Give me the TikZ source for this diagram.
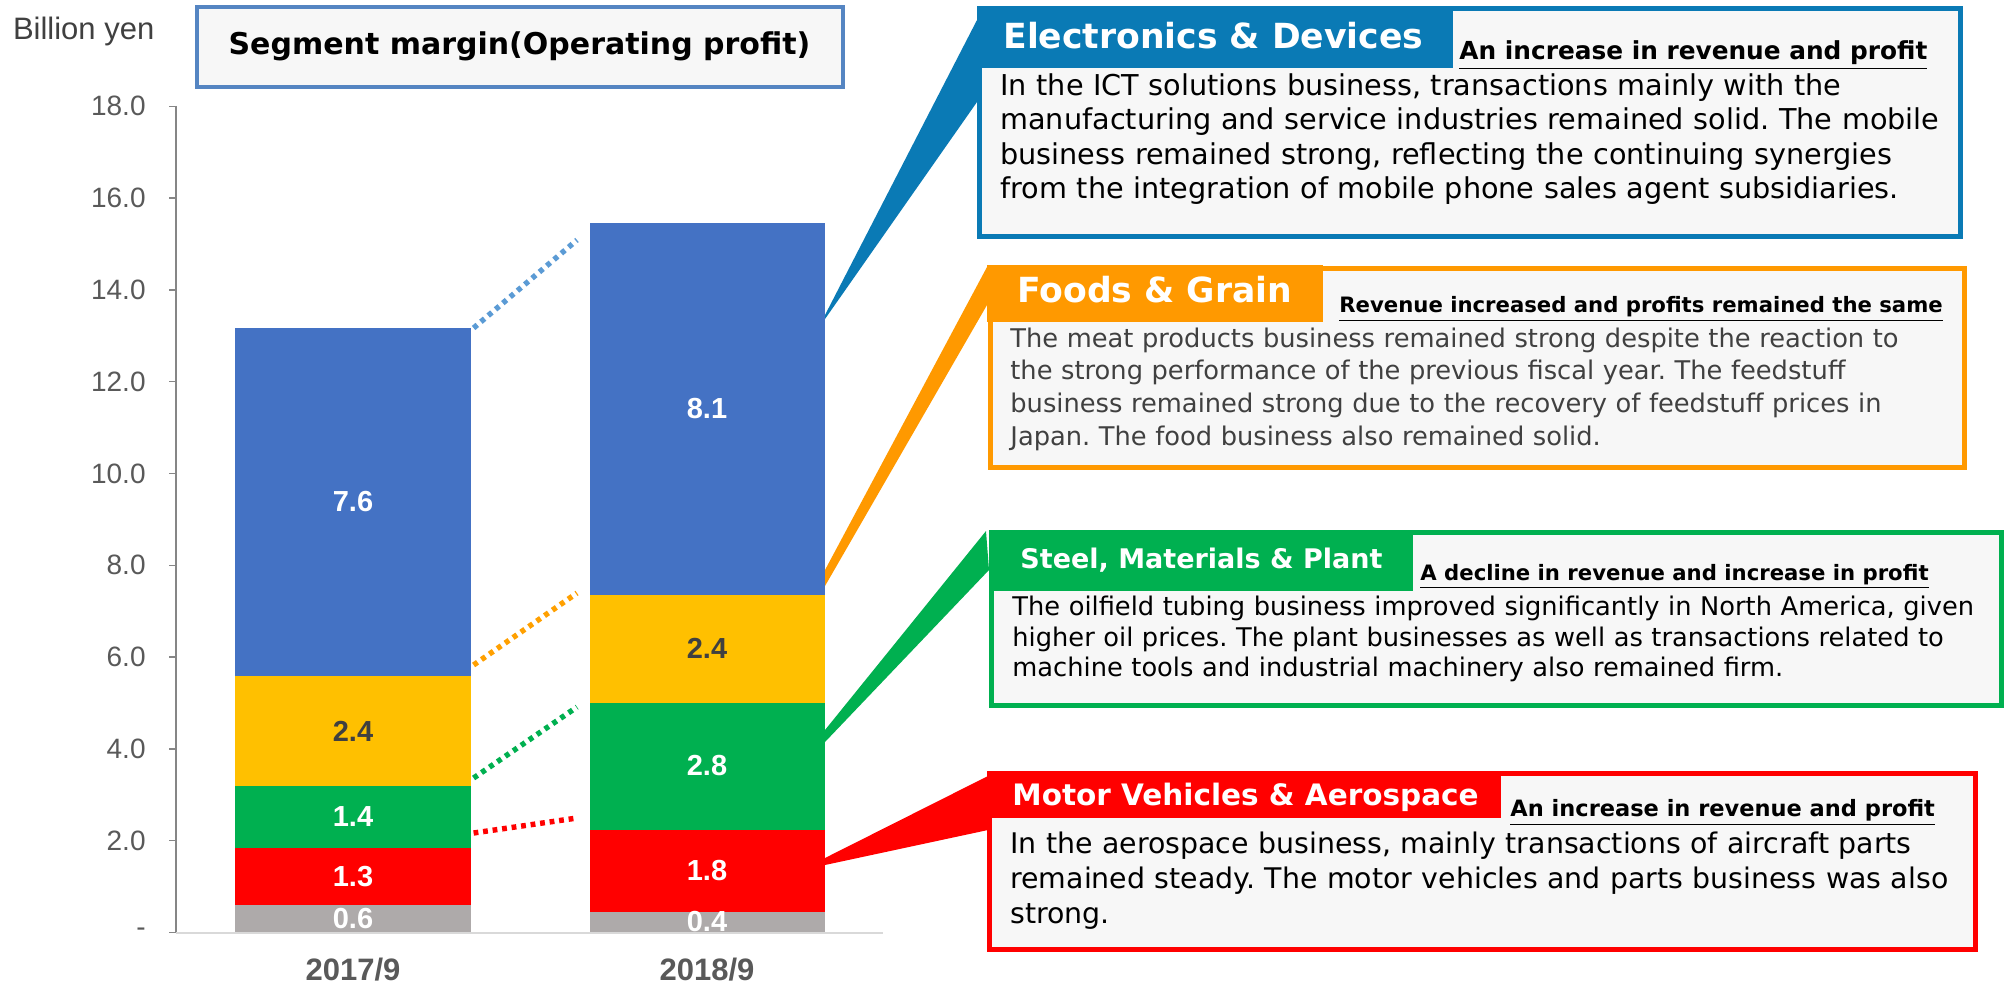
\documentclass[tikz,border=0pt]{standalone}
\usepackage{fontspec}
\setmainfont{DejaVu Sans}
\newfontfamily\arialf{Liberation Sans}
\frenchspacing
\definecolor{elec}{HTML}{0A7AB5}
\definecolor{foods}{HTML}{FF9900}
\definecolor{steel}{HTML}{00B050}
\definecolor{motor}{HTML}{FF0000}
\definecolor{barblue}{HTML}{4472C4}
\definecolor{baryel}{HTML}{FFC000}
\definecolor{bargreen}{HTML}{00B050}
\definecolor{barred}{HTML}{FF0000}
\definecolor{bargray}{HTML}{AEAAAA}
\definecolor{dotblue}{HTML}{5B9BD5}
\definecolor{dotorange}{HTML}{FFA000}
\definecolor{boxfill}{HTML}{F7F7F7}
\definecolor{titleborder}{HTML}{5585C2}
\definecolor{axgray}{HTML}{595959}
\definecolor{axline}{HTML}{868686}
\definecolor{xaxline}{HTML}{D9D9D9}
\definecolor{darktxt}{HTML}{404040}
\begin{document}
\begin{tikzpicture}[x=0.5pt,y=-0.5pt,
  bodytxt/.style={anchor=north west, inner sep=0pt, text width=495pt, align=left},
  hdr/.style={anchor=base west, inner sep=0pt, text=white},
  subttl/.style={anchor=base west, inner sep=0pt},
  vlab/.style={inner sep=0pt, font=\arialf\bfseries\fontsize{14.5}{16}\selectfont, text=white},
  ticklab/.style={anchor=east, inner sep=0pt, font=\arialf\fontsize{14}{16}\selectfont, text=axgray},
  catlab/.style={inner sep=0pt, font=\arialf\bfseries\fontsize{15.5}{18}\selectfont, text=axgray},
  dotline/.style={line width=2.7pt, dash pattern=on 2.4pt off 2.4pt},
  boxframe/.style={line width=2.5pt, fill=boxfill}]
\useasboundingbox (0,0) rectangle (2005,984);
\fill[white] (0,0) rectangle (2005,984);

% ---- axis labels
\node[anchor=base west, inner sep=0pt, font=\arialf\fontsize{15.5}{18}\selectfont, text=darktxt] (unit) at (12.6,40) {Billion yen};

% ---- title box
\draw[titleborder, line width=2pt, fill=boxfill] (197,7) rectangle (843,87);
\node[anchor=base, inner sep=0pt, font=\bfseries\fontsize{15}{18}\selectfont] (title) at (519.5,55) {Segment margin(Operating profit)};

% ---- axes
\draw[axline, line width=0.75pt] (176,106) -- (176,932.5);
\foreach \v/\lab in {0/-,2/2.0,4/4.0,6/6.0,8/8.0,10/10.0,12/12.0,14/14.0,16/16.0,18/18.0}{
  \draw[axline, line width=0.75pt] (169,{932.5-45.9*\v}) -- (176,{932.5-45.9*\v});
  \node[ticklab] (tick\v) at (146,{932.5-45.9*\v}) {\lab};
}

% ---- bars 2017/9
\fill[bargray]  (235,905)   rectangle (471,932.5);
\fill[barred]   (235,848)   rectangle (471,905);
\fill[bargreen] (235,785.7) rectangle (471,848);
\fill[baryel]   (235,676)   rectangle (471,785.7);
\fill[barblue]  (235,327.7) rectangle (471,676);
% ---- bars 2018/9
\fill[bargray]  (589.5,912)   rectangle (825,932.5);
\fill[barred]   (589.5,829.7) rectangle (825,912);
\fill[bargreen] (589.5,702.7) rectangle (825,829.7);
\fill[baryel]   (589.5,594.7) rectangle (825,702.7);
\fill[barblue]  (589.5,223.3) rectangle (825,594.7);

\draw[xaxline, line width=1pt] (176,932.5) -- (883,932.5);

% ---- value labels
\node[vlab] (a1) at (353,502) {7.6};
\node[vlab, text=darktxt] (a2) at (353,731) {2.4};
\node[vlab] (a3) at (353,817) {1.4};
\node[vlab] (a4) at (353,876.5) {1.3};
\node[vlab] (a5) at (353,919) {0.6};
\node[vlab] (b1) at (707,409) {8.1};
\node[vlab, text=darktxt] (b2) at (707,648.7) {2.4};
\node[vlab] (b3) at (707,766) {2.8};
\node[vlab] (b4) at (707,871) {1.8};
\node[vlab] (b5) at (707,922) {0.4};

\node[catlab] (c1) at (353,970) {2017/9};
\node[catlab] (c2) at (707,970) {2018/9};

% ---- dotted connectors between bars
\coordinate (p1s) at (473.6,328);   \coordinate (p1e) at (577,240);
\coordinate (p2s) at (473.6,665);   \coordinate (p2e) at (577,593);
\coordinate (p3s) at (473.6,778);   \coordinate (p3e) at (577,707);
\coordinate (p4s) at (473.6,833);   \coordinate (p4e) at (577,818);
\draw[dotline, dotblue]   (p1s) -- (p1e);
\draw[dotline, dotorange] (p2s) -- (p2e);
\draw[dotline, steel]     (p3s) -- (p3e);
\draw[dotline, motor]     (p4s) -- (p4e);

% ---- callout wedges
\fill[elec]  (977,20)  -- (825,315) -- (825,319) -- (977,102) -- cycle;
\fill[foods] (987,267) -- (825,570) -- (825,586) -- (987,305) -- cycle;
\fill[steel] (986,531) -- (825,730) -- (825,742) -- (989,570) -- cycle;
\fill[motor] (988,776) -- (825,858) -- (825,865) -- (988,830) -- cycle;

% ---- Electronics & Devices
\draw[elec, boxframe] (979.5,8.5) rectangle (1960.5,236.5);
\fill[elec] (977,6) rectangle (1453,68);
\node[hdr, font=\bfseries\fontsize{17.3}{20}\selectfont] (h1) at (1003,48.3) {Electronics \& Devices};
\node[subttl, font=\bfseries\fontsize{12.4}{15}\selectfont] (s1) at (1459,60) {\underline{An increase in revenue and profit}};
\node[bodytxt, font=\fontsize{14.35}{17.25}\selectfont] (t1) at (1000,70.85) {\strut In the ICT solutions business, transactions mainly with the\\manufacturing and service industries remained solid. The mobile\\business remained strong, reflecting the continuing synergies\\from the integration of mobile phone sales agent subsidiaries.};

% ---- Foods & Grain
\draw[foods, boxframe] (990,268) rectangle (1964,467);
\fill[foods] (987,265) rectangle (1323,322);
\node[hdr, font=\bfseries\fontsize{17.3}{20}\selectfont] (h2) at (1017,302.7) {Foods \& Grain};
\node[subttl, font=\bfseries\fontsize{10.6}{13}\selectfont] (s2) at (1339,312.7) {\underline{Revenue increased and profits remained the same}};
\node[bodytxt, text=darktxt, font=\fontsize{12.86}{16.4}\selectfont] (t2) at (1010,323.7) {\strut The meat products business remained strong despite the reaction to\\the strong performance of the previous fiscal year. The feedstuff\\business remained strong due to the recovery of feedstuff prices in\\Japan. The food business also remained solid.};

% ---- Steel, Materials & Plant
\draw[steel, boxframe] (991,532) rectangle (2001.5,705.5);
\fill[steel] (988.5,529.5) rectangle (1413,591);
\node[hdr, font=\bfseries\fontsize{13.5}{16}\selectfont] (h3) at (1020,568.3) {Steel, Materials \& Plant};
\node[subttl, font=\bfseries\fontsize{10.6}{13}\selectfont] (s3) at (1420,580) {\underline{A decline in revenue and increase in profit}};
\node[bodytxt, font=\fontsize{12.85}{15.4}\selectfont] (t3) at (1012,593.4) {\strut The oilfield tubing business improved significantly in North America, given\\higher oil prices. The plant businesses as well as transactions related to\\machine tools and industrial machinery also remained firm.};

% ---- Motor Vehicles & Aerospace
\draw[motor, boxframe] (989.5,773.5) rectangle (1975.5,949.5);
\fill[motor] (987,771) rectangle (1501,818);
\node[hdr, font=\bfseries\fontsize{14.75}{18}\selectfont] (h4) at (1012,805) {Motor Vehicles \& Aerospace};
\node[subttl, font=\bfseries\fontsize{11.25}{14}\selectfont] (s4) at (1510,816.7) {\underline{An increase in revenue and profit}};
\node[bodytxt, font=\fontsize{14.2}{17.5}\selectfont] (t4) at (1010,828.8) {\strut In the aerospace business, mainly transactions of aircraft parts\\remained steady. The motor vehicles and parts business was also\\strong.};
\end{tikzpicture}
\end{document}
